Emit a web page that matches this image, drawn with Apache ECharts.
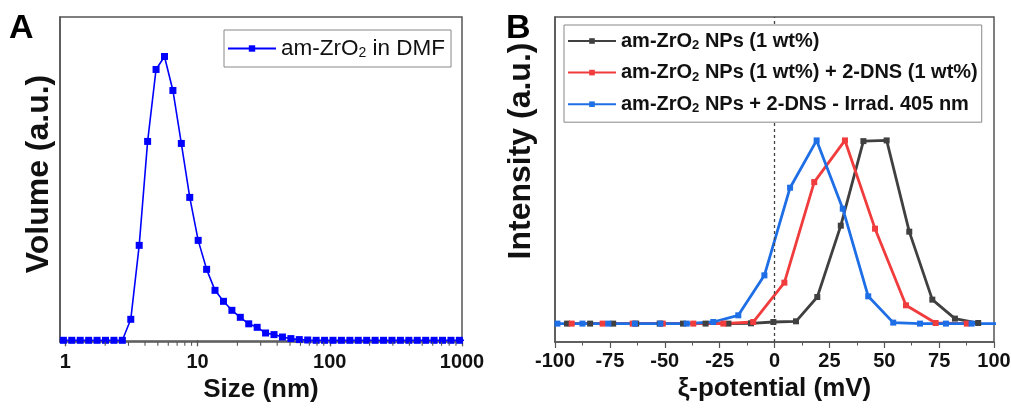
<!DOCTYPE html>
<html>
<head>
<meta charset="utf-8">
<script src="https://cdn.jsdelivr.net/npm/echarts@6/dist/echarts.min.js"></script>
<style>
html,body{margin:0;padding:0;background:#fff;}
#c{width:1011px;height:411px;}
</style>
</head>
<body>
<div id="c"></div>
<script>
// ---------- Panel A: DLS size distribution ----------
const sizeBins = [0.9649, 1.117, 1.294, 1.499, 1.736, 2.010, 2.328, 2.696, 3.122, 3.615, 4.187, 4.849, 5.615, 6.503, 7.531, 8.721, 10.10, 11.70, 13.54, 15.69, 18.17, 21.04, 24.36, 28.21, 32.67, 37.84, 43.82, 50.75, 58.77, 68.06, 78.82, 91.28, 105.7, 122.4, 141.8, 164.2, 190.1, 220.2, 255.0, 295.3, 342.0, 396.1, 458.7, 531.2, 615.1, 712.4, 825.0, 955.4, 1106];
const volumeDMF = [0, 0, 0, 0, 0, 0, 0, 0, 21, 95, 199, 271, 284, 250, 197, 143, 100, 71, 50, 39, 30, 23, 16.5, 13, 7.3, 5.7, 3.3, 1.7, 0.7, 0.3, 0, 0, 0, 0, 0, 0, 0, 0, 0, 0, 0, 0, 0, 0, 0, 0, 0, 0, 0];
const sizeMajorTicks = [1, 10, 100, 1000];
const sizeMinorTicks = [2, 3, 4, 5, 6, 7, 8, 9, 20, 30, 40, 50, 60, 70, 80, 90, 200, 300, 400, 500, 600, 700, 800, 900];

// ---------- Panel B: zeta potential ----------
const zetaNP = [-94.5, -84, -73.5, -63, -52.3, -41.7, -31.4, -21, -10.7, -0.5, 9.8, 19.5, 30.2, 40.5, 51.1, 61.4, 71.9, 82.2, 92.8];
const intNP = [0, 0, 0, 0, 0, 0, 0, 0, 0.3, 1.6, 2.3, 26.6, 98, 182.6, 183.3, 92, 24, 5, 0.6];
const zetaNPDNS = [-92.4, -78.3, -64.6, -50.9, -37, -23.3, -9.7, 4.5, 18.1, 32.1, 45.8, 59.9, 73.4, 87.6];
const intNPDNS = [0, 0, 0, 0, 0, 0, 1.6, 41, 141.6, 183.3, 95, 18.3, 0.6, 0];
const zetaIrrad = [-98.9, -87.5, -75.7, -63.6, -52, -40, -27.9, -16.5, -4.6, 7.1, 19.2, 31.1, 42.7, 54.1, 66.3, 78.1, 89.8, 101.5];
const intIrrad = [0, 0, 0, 0, 0, 0, 1.6, 8.3, 48.3, 136, 183.3, 115, 27.3, 1, 0, 0, 0, 0];

const nameA = 'am-ZrO2 in DMF';
const namesB = ['am-ZrO2 NPs (1 wt%)', 'am-ZrO2 NPs (1 wt%) + 2-DNS (1 wt%)', 'am-ZrO2 NPs + 2-DNS - Irrad. 405 nm'];
const yTitles = ['Volume (a.u.)', 'Intensity (a.u.)'];
const xTitles = ['Size (nm)', 'ξ-potential (mV)'];

function pairs(xs, ys){ return xs.map((x,i)=>[x, ys[i]]); }
function subFmt(n){ return n.replace('ZrO2', 'ZrO{s|2}'); }

const FONT = '"Liberation Sans", Arial, sans-serif';
const AX = '#555';
const Y0A = -1.7;

function tickItem(len, w){
  return function(params, api){
    const p = api.coord([api.value(0), api.value(1)]);
    return {type:'line', shape:{x1:p[0], y1:p[1], x2:p[0], y2:p[1]+len}, style:{stroke:AX, lineWidth:w}};
  };
}

const chart = echarts.init(document.getElementById('c'), null, {renderer:'canvas'});
chart.setOption({
  animation:false,
  backgroundColor:'#fff',
  textStyle:{fontFamily:FONT},
  grid:[
    {left:60, top:17, right:549, bottom:69, show:true, borderColor:AX, borderWidth:1.5, containLabel:false, outerBoundsMode:'none'},
    {left:555, top:17, right:17, bottom:69, show:true, borderColor:AX, borderWidth:1.5, containLabel:false, outerBoundsMode:'none'}
  ],
  xAxis:[
    {type:'log', gridIndex:0, min:0.91, max:1000, logBase:10, position:'bottom',
     axisLine:{show:true, lineStyle:{color:AX, width:1.5}},
     axisTick:{show:true, inside:false, length:6, customValues:sizeMajorTicks, lineStyle:{color:AX, width:1.3}},
     axisLabel:{show:true, customValues:sizeMajorTicks, formatter:(v)=>String(v), margin:10, color:'#111', fontSize:20, fontWeight:'bold', fontFamily:FONT},
     splitLine:{show:false},
     name:xTitles[0], nameLocation:'middle', nameGap:30,
     nameTextStyle:{fontSize:26, fontWeight:'bold', color:'#111', fontFamily:FONT}},
    {type:'value', gridIndex:1, min:-100, max:100, interval:25, position:'bottom',
     axisLine:{show:true, onZero:false, lineStyle:{color:AX, width:1.5}},
     axisTick:{show:true, inside:false, length:6, lineStyle:{color:AX, width:1.2}},
     minorTick:{show:true, splitNumber:2, length:3.5, lineStyle:{color:AX, width:1}},
     axisLabel:{margin:9, color:'#111', fontSize:20, fontWeight:'bold', fontFamily:FONT},
     splitLine:{show:false},
     name:xTitles[1], nameLocation:'middle', nameGap:30,
     nameTextStyle:{fontSize:26, fontWeight:'bold', color:'#111', fontFamily:FONT}}
  ],
  yAxis:[
    {type:'value', gridIndex:0, min:Y0A, max:323.5,
     axisLine:{show:true, lineStyle:{color:AX, width:1.5}}, axisTick:{show:false}, axisLabel:{show:false}, splitLine:{show:false}},
    {type:'value', gridIndex:1, min:-18.4, max:306.8,
     axisLine:{show:true, onZero:false, lineStyle:{color:AX, width:1.5}}, axisTick:{show:false}, axisLabel:{show:false}, splitLine:{show:false}}
  ],
  legend:[
    {data:[nameA], left:224, top:30, orient:'vertical', padding:[7,6,7,3],
     borderColor:'#888', borderWidth:1, backgroundColor:'#fff',
     itemWidth:48, itemHeight:8,
     formatter:subFmt,
     textStyle:{fontSize:22.5, color:'#111', fontFamily:FONT, lineHeight:22,
       rich:{s:{fontSize:14, fontFamily:FONT, color:'#111', lineHeight:22, padding:[9,0,0,0]}}}},
    {data:namesB, left:564, top:25, orient:'vertical', padding:[5,4,7,3], itemGap:9.6,
     borderColor:'#888', borderWidth:1, backgroundColor:'#fff', z:10,
     itemWidth:48, itemHeight:7,
     formatter:subFmt,
     textStyle:{fontSize:20, fontWeight:'bold', color:'#111', fontFamily:FONT, lineHeight:20,
       rich:{s:{fontSize:13, fontWeight:'bold', fontFamily:FONT, color:'#111', lineHeight:20, padding:[9,0,0,0]}}}}
  ],
  graphic:[
    {type:'text', left:9, top:12, style:{text:'A', fontSize:34, fontWeight:'bold', fill:'#000', fontFamily:FONT}},
    {type:'text', left:506, top:12, style:{text:'B', fontSize:34, fontWeight:'bold', fill:'#000', fontFamily:FONT}},
    {type:'text', x:39, y:174, rotation:Math.PI/2,
     style:{text:yTitles[0], fontSize:32, fontWeight:'bold', fill:'#111', fontFamily:FONT, align:'center', verticalAlign:'middle'}},
    {type:'text', x:521, y:151, rotation:Math.PI/2,
     style:{text:yTitles[1], fontSize:32, fontWeight:'bold', fill:'#111', fontFamily:FONT, align:'center', verticalAlign:'middle'}}
  ],
  series:[
    // minor ticks of the log axis, placed through the axis scale
    {type:'custom', coordinateSystem:'cartesian2d', xAxisIndex:0, yAxisIndex:0, silent:true, clip:false, z:5,
     data:sizeMinorTicks.map(v=>[v, Y0A]), renderItem:tickItem(3.8, 1.1)},
    {name:nameA, type:'line', xAxisIndex:0, yAxisIndex:0, data:pairs(sizeBins, volumeDMF),
     symbol:'rect', symbolSize:7, showAllSymbol:true, clip:true, z:3,
     lineStyle:{color:'#0000ff', width:1.6}, itemStyle:{color:'#0000ff'}},
    {name:namesB[0], type:'line', xAxisIndex:1, yAxisIndex:1, data:pairs(zetaNP, intNP),
     symbol:'rect', symbolSize:6, showAllSymbol:true, clip:true,
     lineStyle:{color:'#404040', width:2.8}, itemStyle:{color:'#404040'},
     markLine:{silent:true, symbol:['none','none'], label:{show:false},
       lineStyle:{color:'#444', type:[3,3], width:1.3}, data:[{xAxis:0}]}},
    {name:namesB[1], type:'line', xAxisIndex:1, yAxisIndex:1, data:pairs(zetaNPDNS, intNPDNS),
     symbol:'rect', symbolSize:6, showAllSymbol:true, clip:true,
     lineStyle:{color:'#f03c3c', width:2.8}, itemStyle:{color:'#f03c3c'}},
    {name:namesB[2], type:'line', xAxisIndex:1, yAxisIndex:1, data:pairs(zetaIrrad, intIrrad),
     symbol:'rect', symbolSize:6, showAllSymbol:true, clip:true,
     lineStyle:{color:'#1e6ee6', width:2.8}, itemStyle:{color:'#1e6ee6'}}
  ]
});
</script>
</body>
</html>
